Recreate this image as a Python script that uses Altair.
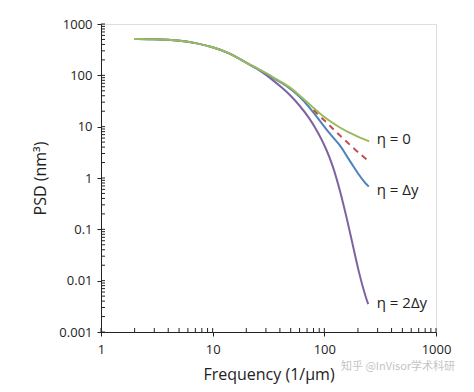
import altair as alt
import pandas as pd

# ---- data ----
common_x = [2, 3, 4, 5, 7, 10, 14, 20]
common_y = [510, 503, 492, 478, 430, 355, 276, 175]

purple_x = [25, 30, 35, 42, 49, 60, 74, 90, 104, 119, 137, 168, 207, 237, 247]
purple_y = [135, 102, 79, 57, 42, 26, 14.5, 7, 3.7, 1.75, 0.62, 0.1, 0.012, 0.0045, 0.0035]

blue_x = [25, 30, 35, 42, 49, 57, 64.5, 80, 97, 115, 137, 157, 168, 180, 207, 230, 250]
blue_y = [137, 108, 88, 70, 56, 43, 33, 19, 10.8, 6.8, 4.5, 2.8, 2.2, 1.75, 1.1, 0.82, 0.68]

green_x = [25, 30, 35, 42, 49, 60, 74, 91, 110, 137, 168, 190, 220, 252]
green_y = [138, 111, 91, 73, 59, 41, 27, 18, 13.2, 9.6, 7.6, 6.7, 5.8, 5.2]

red_x = [80, 91, 105, 119, 137, 160, 190, 220, 248]
red_y = [21, 16, 12, 9.2, 6.8, 5.0, 3.5, 2.7, 2.15]

label_text = ["η = 0", "η = Δy", "η = 2Δy"]
label_x = [250, 250, 250]
label_y = [5.7, 0.58, 0.0036]

x_major = [1, 10, 100, 1000]
y_major = [0.001, 0.01, 0.1, 1, 10, 100, 1000]

series_names = ["η = 2Δy", "η = Δy", "η = 0"]
series_colors = ["#7f63a1", "#4f81bd", "#9bbb59"]

rows = []
for name, xs, ys in [("η = 2Δy", purple_x, purple_y),
                     ("η = Δy", blue_x, blue_y),
                     ("η = 0", green_x, green_y)]:
    allx = common_x + xs
    ally = common_y + ys
    for i, (a, b) in enumerate(zip(allx, ally)):
        rows.append({"series": name, "f": a, "psd": b, "o": i})
df = pd.DataFrame(rows)
df_red = pd.DataFrame({"f": red_x, "psd": red_y})
df_lab = pd.DataFrame({"t": label_text, "f": label_x, "psd": label_y})

x_minor = sorted(set([m * 10 ** k for k in range(0, 3) for m in range(1, 10)] + [1000]))
y_minor = sorted(set([round(m * 10.0 ** k, 6) for k in range(-3, 3) for m in range(1, 10)] + [1000]))

xscale = alt.Scale(type="log", domain=[1, 1000], nice=False)
yscale = alt.Scale(type="log", domain=[0.001, 1000], nice=False)

FONT = "Open Sans"

xaxis = alt.Axis(values=x_major, format="~g", title="Frequency (1/μm)", grid=False,
                 tickSize=4, labelPadding=7, labelFontSize=13, titleFontSize=16,
                 titleFontWeight="normal", titlePadding=10, domainColor="#222",
                 tickColor="#222", labelColor="#222", titleColor="#222", labelFont=FONT,
                 titleFont=FONT, labelFlush=False)
yaxis = alt.Axis(values=y_major, labelExpr="datum.value >= 1 ? format(datum.value, 'd') : format(datum.value, '~g')",
                 title="PSD (nm³)", grid=False,
                 tickSize=4, labelPadding=5, labelFontSize=13, titleFontSize=16,
                 titleFontWeight="normal", titlePadding=10, domainColor="#222",
                 tickColor="#222", labelColor="#222", titleColor="#222", labelFont=FONT,
                 titleFont=FONT, labelFlush=False)

lines = alt.Chart(df).mark_line(strokeWidth=2, interpolate="basis").encode(
    x=alt.X("f:Q", scale=xscale, axis=xaxis),
    y=alt.Y("psd:Q", scale=yscale, axis=yaxis),
    color=alt.Color("series:N", scale=alt.Scale(domain=series_names, range=series_colors), legend=None),
    order="o:Q",
)

red = alt.Chart(df_red).mark_line(strokeWidth=2, color="#c0504d", strokeDash=[6, 5],
                                  interpolate="basis").encode(
    x=alt.X("f:Q", scale=xscale),
    y=alt.Y("psd:Q", scale=yscale),
)

labels = alt.Chart(df_lab).mark_text(align="left", baseline="middle", dx=8, fontSize=15,
                                     font=FONT, color="#222").encode(
    x=alt.X("f:Q", scale=xscale),
    y=alt.Y("psd:Q", scale=yscale),
    text="t:N",
)

xticks = alt.Chart(pd.DataFrame({"t": x_minor})).mark_rule(color="#222", strokeWidth=1).encode(
    x=alt.X("t:Q", scale=xscale), y=alt.value(308), y2=alt.value(304))
yticks = alt.Chart(pd.DataFrame({"t": y_minor})).mark_rule(color="#222", strokeWidth=1).encode(
    y=alt.Y("t:Q", scale=yscale), x=alt.value(0), x2=alt.value(4))

watermark = alt.Chart(pd.DataFrame({"w": ["知乎 @InVisor学术科研"]})).mark_text(
    align="left", baseline="middle", fontSize=11, font="Noto Sans CJK SC", color="#c4c4c4").encode(
    x=alt.value(240), y=alt.value(343), text="w:N")

chart = alt.layer(xticks, yticks, lines, red, labels, watermark).properties(
    width=335, height=308, autosize="none",
    padding={"left": 93, "top": 16, "right": 30, "bottom": 60},
).configure_view(stroke="#222", strokeWidth=1).configure(background="white")

chart.save("out.html", embed_options={"renderer": "svg", "actions": False})
